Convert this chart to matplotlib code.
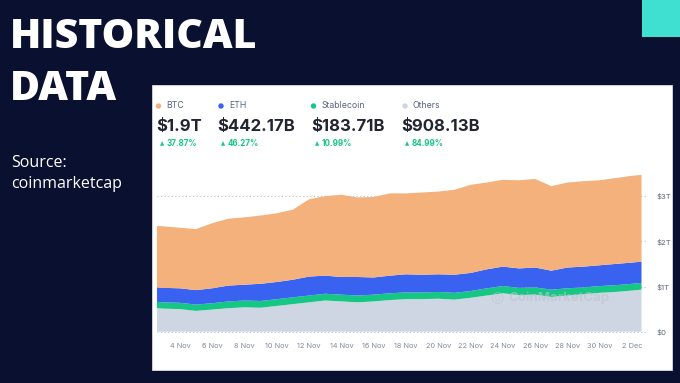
import matplotlib
matplotlib.use("Agg")
import matplotlib.pyplot as plt
import matplotlib.patches as mpatches
import pandas as pd
import numpy as np

# ---------------- data (trillions USD) ----------------
dates = (["2024-11-02 14:00"]
         + [f"2024-11-{d:02d} 00:00" for d in range(3, 31)]
         + ["2024-12-01 00:00", "2024-12-02 00:00", "2024-12-02 14:00"])

others = [0.52, 0.51, 0.50, 0.46, 0.49, 0.52, 0.54, 0.53, 0.57, 0.61, 0.65, 0.69,
          0.67, 0.65, 0.67, 0.70, 0.72, 0.72, 0.73, 0.71, 0.75, 0.80, 0.85, 0.81,
          0.82, 0.77, 0.80, 0.83, 0.86, 0.88, 0.91, 0.93]
stablecoin = [0.14, 0.14, 0.14, 0.14, 0.14, 0.15, 0.15, 0.15, 0.15, 0.15, 0.15, 0.15,
              0.15, 0.15, 0.15, 0.15, 0.15, 0.15, 0.15, 0.15, 0.15, 0.16, 0.16, 0.16,
              0.16, 0.16, 0.16, 0.15, 0.15, 0.15, 0.15, 0.15]
eth = [0.32, 0.32, 0.32, 0.32, 0.33, 0.35, 0.35, 0.38, 0.38, 0.39, 0.42, 0.40,
       0.39, 0.41, 0.38, 0.39, 0.40, 0.39, 0.39, 0.40, 0.40, 0.42, 0.43, 0.43,
       0.44, 0.42, 0.46, 0.46, 0.46, 0.47, 0.47, 0.47]
btc = [1.36, 1.36, 1.34, 1.35, 1.44, 1.48, 1.49, 1.51, 1.52, 1.55, 1.71, 1.76,
       1.82, 1.76, 1.78, 1.82, 1.79, 1.82, 1.83, 1.88, 1.95, 1.92, 1.92, 1.95,
       1.96, 1.87, 1.88, 1.89, 1.88, 1.90, 1.92, 1.92]

series_names = ["BTC", "ETH", "Stablecoin", "Others"]
series_values = ["$1.9T", "$442.17B", "$183.71B", "$908.13B"]
series_changes = ["37.87%", "46.27%", "10.99%", "84.99%"]

xtick_dates = ["2024-11-04", "2024-11-06", "2024-11-08", "2024-11-10", "2024-11-12",
               "2024-11-14", "2024-11-16", "2024-11-18", "2024-11-20", "2024-11-22",
               "2024-11-24", "2024-11-26", "2024-11-28", "2024-11-30", "2024-12-02"]
xtick_labels = ["4 Nov", "6 Nov", "8 Nov", "10 Nov", "12 Nov", "14 Nov", "16 Nov",
                "18 Nov", "20 Nov", "22 Nov", "24 Nov", "26 Nov", "28 Nov", "30 Nov",
                "2 Dec"]
ytick_values = [0, 1, 2, 3]
ytick_labels = ["$0", "$1T", "$2T", "$3T"]

# ---------------- styling ----------------
BG = "#0a1030"
TEAL = "#3fe0d2"
C_BTC = "#f4b17b"
C_ETH = "#3a62f0"
C_STB = "#16c784"
C_OTH = "#cfd6e3"
series_colors = [C_BTC, C_ETH, C_STB, C_OTH]

W, H = 680, 383
fig = plt.figure(figsize=(W / 100, H / 100), dpi=100)
fig.patch.set_facecolor(BG)


def fx(x):
    return x / W


def fy(y):
    return 1 - y / H


# teal corner block
fig.patches.append(mpatches.Rectangle((fx(641.5), fy(37)), fx(40), 37 / H,
                                      transform=fig.transFigure, facecolor=TEAL,
                                      edgecolor="none", zorder=-2))
# white panel
fig.patches.append(mpatches.Rectangle((fx(152), fy(370)), (672 - 152) / W, (370 - 85) / H,
                                      transform=fig.transFigure, facecolor="white",
                                      edgecolor="#d8dbe2", linewidth=0.6, zorder=-2))

# title
TFONT = ["Open Sans", "DejaVu Sans"]
fig.text(fx(10), fy(48.5), "HISTORICAL", color="white", fontsize=29.5,
         fontweight="heavy", family=TFONT, va="baseline", ha="left")
fig.text(fx(10), fy(100.5), "DATA", color="white", fontsize=29.5,
         fontweight="heavy", family=TFONT, va="baseline", ha="left")
fig.text(fx(11), fy(167), "Source:", color="white", fontsize=11.5,
         fontweight="normal", family=TFONT, va="baseline")
fig.text(fx(11), fy(188), "coinmarketcap", color="white", fontsize=11.5,
         fontweight="normal", family=TFONT, va="baseline")

# panel header
dot_x = [158.5, 221, 313.5, 405]
val_x = [156.5, 217.5, 311.5, 401.5]
for name, val, chg, col, dx, vx in zip(series_names, series_values, series_changes,
                                      series_colors, dot_x, val_x):
    fig.patches.append(mpatches.Ellipse((fx(dx), fy(106)), 5.4 / W, 5.4 / H,
                                        transform=fig.transFigure, facecolor=col,
                                        edgecolor="none"))
    fig.text(fx(dx + 8), fy(106), name, color="#58667e", fontsize=6.3,
             family=["Inter", "DejaVu Sans"], va="center", ha="left")
    fig.text(fx(vx), fy(131.5), val, color="#222531", fontsize=12,
             fontweight="bold", family=["Inter", "DejaVu Sans"], va="baseline", ha="left")
    fig.text(fx(vx + 3), fy(144), "\u25b2", color=C_STB, fontsize=4,
             family=["DejaVu Sans"], va="center", ha="left")
    fig.text(fx(vx + 10), fy(144), chg, color=C_STB, fontsize=5.8,
             fontweight="bold", family=["Inter", "DejaVu Sans"], va="center", ha="left")

# ---------------- chart ----------------
ymin, ymax = -0.03, 3.70
px_per_t = 45.2
ax_bottom_px = 331.7 - ymin * px_per_t
ax_top_px = 331.7 - ymax * px_per_t
ax_left_px, ax_right_px = 157, 648
ax = fig.add_axes([fx(ax_left_px), fy(ax_bottom_px),
                   (ax_right_px - ax_left_px) / W, (ax_bottom_px - ax_top_px) / H],
                  zorder=3)
ax.set_facecolor("none")

x = pd.to_datetime(dates, format="%Y-%m-%d %H:%M")
ax.stackplot(x, others, stablecoin, eth, btc,
             colors=[C_OTH, C_STB, C_ETH, C_BTC], linewidth=0, zorder=2)

days_per_px = 1 / 16.15
x0 = x[0]
ax.set_xlim(x0, x0 + pd.Timedelta(days=(ax_right_px - ax_left_px) * days_per_px))
ax.set_ylim(ymin, ymax)

for v in ytick_values:
    ax.axhline(v, color="#b9bfc9", linewidth=0.8, linestyle=(0, (1, 2.2)), zorder=1)

ax.yaxis.tick_right()
ax.set_yticks(ytick_values)
ax.set_yticklabels(ytick_labels)
ax.set_xticks(pd.to_datetime(xtick_dates, format="%Y-%m-%d"))
ax.set_xticklabels(xtick_labels)
ax.tick_params(axis="y", length=0, pad=6, labelsize=5.6, labelcolor="#58667e")
ax.tick_params(axis="x", length=0, pad=7.5, labelsize=5.3, labelcolor="#808a9d")
for lab in ax.get_xticklabels() + ax.get_yticklabels():
    lab.set_family(["Inter", "DejaVu Sans"])
for s in ax.spines.values():
    s.set_visible(False)

# watermark
fig.text(fx(497), fy(298), "\u25ce", color="#bcc3cf", alpha=0.6, fontsize=11,
         family=["DejaVu Sans"], va="center", ha="center", zorder=5)
fig.text(fx(508), fy(298), "CoinMarketCap", color="#bcc3cf", alpha=0.6, fontsize=9.5,
         fontweight="bold", family=["Inter", "DejaVu Sans"], va="center", ha="left",
         zorder=5)

fig.savefig("out.png", dpi=100, facecolor=BG)
